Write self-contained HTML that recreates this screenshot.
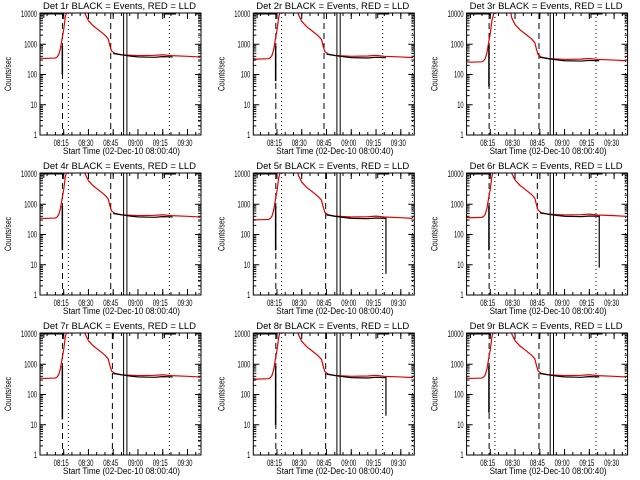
<!DOCTYPE html>
<html><head><meta charset="utf-8"><style>
body{margin:0;background:#fff}
svg{display:block}
text{font-family:"Liberation Sans",sans-serif;font-size:9px;fill:#000}
</style></head><body>
<svg id="c" width="640" height="480"></svg>
<script>
// shared LLD (red) profile: minutes after 08:00 and counts/sec
const redTimes=[0.7,3,10,11,12,13,14,15,16,17,18,27,28,30,33,36,40,42,43,44,46,50,60,70,75,80,90,97];
const redVals=[350,340,350,380,450,700,1500,3000,8000,13000,20000,20000,10000,6000,4000,3000,2000,1500,900,600,500,450,420,430,450,420,400,380];
// events (black) after gap
const blkTimes=[45,50,55,60,70,75,81];
const blkVals=[520,470,430,400,390,410,400];
// per-panel parameters
const detNames=["1r","2r","3r","4r","5r","6r","7r","8r","9r"];
const panelScale=[1,0.95,0.75,1,0.9,1.05,1,0.95,1];
const spikeLow=[100,60,40,30,30,30,15,10,25];
const dropLow=[null,null,null,null,5,8,null,20,null];
const dashT2=[43.5,43.5,44.5,43.5,44.5,43.5,44.5,44.5,44.5];
const tickLabels=["08:15","08:30","08:45","09:00","09:15","09:30"];
const tickMins=[15,30,45,60,75,90];
const yTicks=[1,10,100,1000,10000];
const yLabels=["1","10","100","1000","10000"];

const svg=document.getElementById('c');
const NS="http://www.w3.org/2000/svg";
function mk(tag,attrs,parent){const e=document.createElementNS(NS,tag);for(const k in attrs)e.setAttribute(k,attrs[k]);parent.appendChild(e);return e;}

detNames.forEach((d,i)=>{
  const ox=(i%3)*213.3, oy=Math.floor(i/3)*160;
  const L=ox+40,R=ox+201,T=oy+13,B=oy+135;
  const xs=m=>L+(m-0.67)*(R-L)/97.5;
  const ys=v=>B-Math.log10(v)*(B-T-1)/4;
  const g=mk('g',{},svg);
  
  
  const cp='clip'+i;
  const cd=mk('clipPath',{id:cp},g);mk('rect',{x:L,y:T,width:R-L,height:B-T},cd);
  const t=mk('text',{x:ox+43,y:oy+9,textLength:153,lengthAdjust:'spacingAndGlyphs','font-size':'10'},g);t.textContent='Det '+d+' BLACK = Events, RED = LLD';
  
  const xl=mk('text',{x:ox+63,y:oy+154,textLength:117,lengthAdjust:'spacingAndGlyphs','font-size':'10'},g);xl.textContent='Start Time (02-Dec-10 08:00:40)';
  
  const yl=mk('text',{x:0,y:0,'text-anchor':'middle','font-size':'8',textLength:34,lengthAdjust:'spacingAndGlyphs',transform:`translate(${ox+11},${oy+74}) rotate(-90)`},g);yl.textContent='Counts/sec';
  
  yTicks.forEach((v,k)=>{const y=ys(v);
    const w=yLabels[k].length*3.2;
    const tl=mk('text',{x:L-3-w,y:y+3,textLength:w,lengthAdjust:'spacingAndGlyphs','font-size':'9'},g);tl.textContent=yLabels[k];
    
    mk('line',{x1:L,x2:L+6,y1:y,y2:y,stroke:'#000'},g);mk('line',{x1:R,x2:R-6,y1:y,y2:y,stroke:'#000'},g);
    if(v<10000)for(let m=2;m<10;m++){const yy=ys(v*m);mk('line',{x1:L,x2:L+3,y1:yy,y2:yy,stroke:'#000'},g);mk('line',{x1:R,x2:R-3,y1:yy,y2:yy,stroke:'#000'},g);}
  });
  tickMins.forEach((m,k)=>{const x=xs(m);
    const tl=mk('text',{x:x-10,y:B+11,textLength:15,lengthAdjust:'spacingAndGlyphs','font-size':'9'},g);tl.textContent=tickLabels[k];
    
    mk('line',{x1:x,x2:x,y1:B,y2:B-6,stroke:'#000'},g);mk('line',{x1:x,x2:x,y1:T,y2:T+6,stroke:'#000'},g);
  });
  for(let m=5;m<98;m+=5){const x=xs(m);mk('line',{x1:x,x2:x,y1:B,y2:B-3,stroke:'#000'},g);mk('line',{x1:x,x2:x,y1:T,y2:T+3,stroke:'#000'},g);}
  const vl=(m,dash,w)=>mk('line',{x1:xs(m),x2:xs(m),y1:T,y2:B,stroke:'#000','stroke-width':w||1,'stroke-dasharray':dash||'none'},g);
  vl(14.3,'6,4');vl(17.8,'1,3');vl(dashT2[i],'6,4');vl(51.3);vl(53.3);vl(79,'1,3');vl(97,'1,3');
  [[3,15],[76,83]].forEach(([a,b])=>{mk('polyline',{points:`${xs(a)},${T+5} ${xs(a)},${T+1} ${xs(b)},${T+1}`,fill:'none',stroke:'#000'},g);});
  const rp=redTimes.map((m,k)=>xs(m)+','+ys(redVals[k]*panelScale[i])).join(' ');
  const red=mk('polyline',{points:rp,fill:'none',stroke:'#e00000','stroke-width':1.2,'clip-path':`url(#${cp})`},g);
  
  const bp=blkTimes.map((m,k)=>xs(m)+','+ys(blkVals[k]*panelScale[i]*0.95)).join(' ');
  const blk=mk('polyline',{points:bp,fill:'none',stroke:'#000','stroke-width':1.2,'clip-path':`url(#${cp})`},g);
  
  mk('line',{x1:xs(14.2),x2:xs(14.2),y1:ys(900),y2:ys(spikeLow[i]),stroke:'#000','stroke-width':1.5},g);
  if(dropLow[i])mk('line',{x1:xs(81),x2:xs(81),y1:ys(400*panelScale[i]),y2:ys(dropLow[i]),stroke:'#000','stroke-width':1.2},g);
  mk('rect',{x:L,y:T,width:R-L,height:B-T,fill:'none',stroke:'#000'},g);
});
</script></body></html>
